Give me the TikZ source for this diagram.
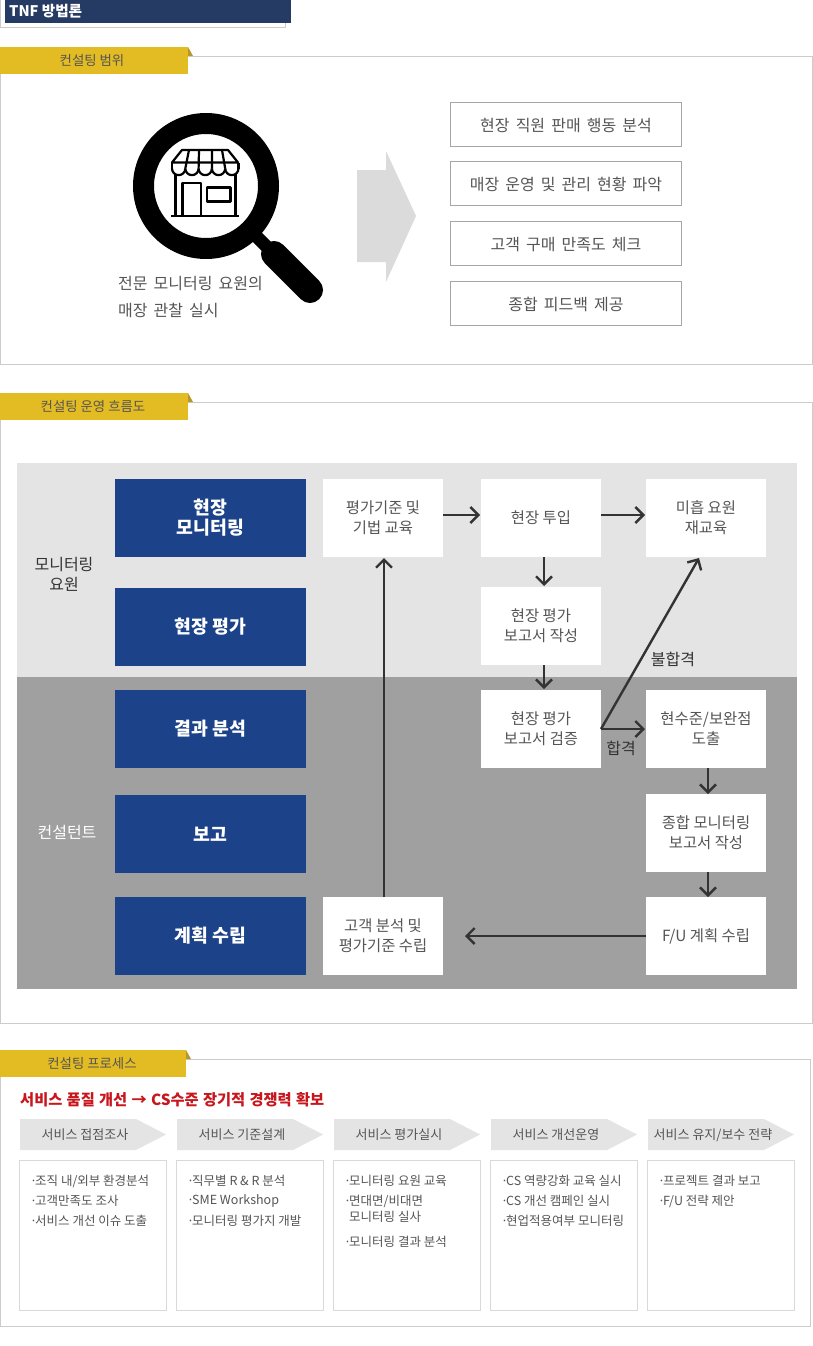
\documentclass[tikz,border=0pt]{standalone}
\usepackage{xcolor}
\usepackage{fontspec}
\setmainfont{Noto Sans CJK KR}
\usepackage{tikz}
\usetikzlibrary{positioning, arrows.meta, shapes.symbols}
\definecolor{header_blue}{HTML}{253B63}
\definecolor{tab_gold}{HTML}{E3BB22}
\definecolor{tab_fold}{HTML}{B8962A}
\definecolor{frame_gray}{HTML}{CCCCCC}
\definecolor{text_gray}{HTML}{555555}
\definecolor{band_light}{HTML}{E4E4E4}
\definecolor{band_dark}{HTML}{A0A0A0}
\definecolor{step_blue}{HTML}{1C438A}
\definecolor{title_red}{HTML}{C8161D}
\newcommand{\dotitem}{\makebox[5pt][l]{·}}
\newcommand{\widewords}{\spaceskip=0.38em\relax}
\newcommand{\titlewords}{\spaceskip=0.28em\relax}
\tikzset{
    frame_style/.style={
        rectangle,
        draw=frame_gray,
        line width=1pt,
        fill=white,
        anchor=north west,
        inner sep=0pt,
        outer sep=0pt
    },
    tab_style/.style={
        rectangle,
        fill=tab_gold,
        text=text_gray,
        anchor=north west,
        minimum height=27pt,
        inner sep=0pt,
        outer sep=0pt,
        text height=11pt,
        text depth=1pt,
        font=\fontsize{13.4}{16}\selectfont
    },
    scope_box/.style={
        rectangle,
        draw=black!35,
        line width=0.8pt,
        text=text_gray,
        minimum width=231.5pt,
        minimum height=44.5pt,
        inner sep=0pt,
        outer sep=0pt,
        text height=14pt,
        text depth=1pt,
        font=\fontsize{16}{20}\selectfont\widewords
    },
    blue_box/.style={
        rectangle,
        fill=step_blue,
        text=white,
        align=center,
        minimum width=191pt,
        minimum height=78pt,
        inner sep=0pt,
        outer sep=0pt,
        font=\fontsize{18.3}{20}\selectfont\bfseries
    },
    flow_box/.style={
        rectangle,
        fill=white,
        text=text_gray,
        align=center,
        minimum width=120pt,
        minimum height=78pt,
        inner sep=0pt,
        outer sep=0pt,
        font=\fontsize{15.4}{20}\selectfont
    },
    flow_two/.style={
        flow_box,
        execute at begin node=\rule{0pt}{17pt}
    },
    arrow_style/.style={
        -{Straight Barb[length=8pt,width=16pt]},
        draw=black!80,
        line width=2.4pt
    },
    side_label/.style={
        align=center,
        inner sep=0pt,
        font=\fontsize{16}{20}\selectfont
    },
    chevron_style/.style={
        signal,
        signal to=east,
        signal pointer angle=54.6,
        fill=band_light,
        minimum width=146pt,
        minimum height=31pt,
        inner sep=0pt,
        outer sep=0pt
    },
    chevron_text/.style={
        text=text_gray,
        inner sep=0pt,
        text height=11pt,
        text depth=1pt,
        font=\fontsize{13}{16}\selectfont
    },
    list_box/.style={
        rectangle,
        draw=black!15,
        line width=1pt,
        fill=white,
        minimum width=146.5pt,
        minimum height=150pt,
        inner sep=0pt,
        outer sep=0pt
    },
    list_item/.style={
        anchor=west,
        text=text_gray,
        inner sep=0pt,
        yshift=-1pt,
        font=\fontsize{12.5}{15}\selectfont
    }
}

\begin{document}
\begin{tikzpicture}[x=1pt, y=-1pt, node distance=17pt]
    \useasboundingbox (0,0) rectangle (813,1346);

    % 1. header
    \node[frame_style, minimum width=285pt, minimum height=32pt] (head_frame) at (0.5,-4.5) {};
    \node[rectangle, fill=header_blue, anchor=north west, minimum width=286pt, minimum height=23pt,
          inner sep=0pt, outer sep=0pt] (head_bar) at (5,0) {};
    \node[anchor=west, text=white, inner sep=0pt, font=\fontsize{14.6}{18}\selectfont\bfseries]
        (head_text) at (9,11.5) {TNF 방법론};

    % 2. consulting scope
    \node[frame_style, minimum width=812pt, minimum height=308pt] (scope_frame) at (0.5,56.5) {};
    \fill[tab_fold] (188,47) -- (193,56) -- (188,56) -- cycle;
    \node[tab_style, minimum width=188pt] (scope_tab) at (0,47) {\hspace*{-4pt}컨설팅 범위};

    % magnifier and store
    \draw[black, line width=21pt] (206,186) circle[radius=62.5];
    \draw[black, line width=13pt] (256,236) -- (272,252);
    \draw[black, line width=26pt, line cap=round] (274,254) -- (310,290);
    \begin{scope}[black, line width=2.2pt, line join=round]
        \draw (182,150) -- (228,150) -- (238,162.5) -- (172,162.5) -- cycle;
        \draw (172,162.5) -- (172,168.5);
        \draw (238.5,162.5) -- (238.5,168.5);
        \draw (172,168.5) arc[start angle=180, end angle=0, radius=6.65];
        \draw (185.3,168.5) arc[start angle=180, end angle=0, radius=6.65];
        \draw (198.6,168.5) arc[start angle=180, end angle=0, radius=6.65];
        \draw (211.9,168.5) arc[start angle=180, end angle=0, radius=6.65];
        \draw (225.2,168.5) arc[start angle=180, end angle=0, radius=6.65];
        \draw (189,150) -- (185.3,168.5);
        \draw (199,150) -- (198.6,168.5);
        \draw (212,150) -- (211.9,168.5);
        \draw (222,150) -- (225.2,168.5);
        \draw (175.5,174) -- (175.5,216);
        \draw (235.5,174) -- (235.5,216);
        \draw (171,216) -- (239,216);
        \draw (182.5,216) -- (182.5,183) -- (201,183) -- (201,216);
        \draw (207,187.5) rectangle (230.5,201.5);
    \end{scope}

    \node[anchor=west, text=text_gray, inner sep=0pt, font=\fontsize{16}{18}\selectfont\widewords]
        (scope_note_a) at (118,283.5) {전문 모니터링 요원의};
    \node[anchor=west, text=text_gray, inner sep=0pt, font=\fontsize{16}{18}\selectfont\widewords]
        (scope_note_b) at (118,310.5) {매장 관찰 실시};

    \fill[black!14] (357,170) -- (386,170) -- (386,151) -- (416,216) -- (386,282) -- (386,262) -- (357,262) -- cycle;

    \node[scope_box] (scope_a) at (566,124.5) {현장 직원 판매 행동 분석};
    \node[scope_box] (scope_b) at (566,183.5) {매장 운영 및 관리 현황 파악};
    \node[scope_box] (scope_c) at (566,243.5) {고객 구매 만족도 체크};
    \node[scope_box] (scope_d) at (566,303.5) {종합 피드백 제공};

    % 3. operation flow
    \node[frame_style, minimum width=812pt, minimum height=621pt] (flow_frame) at (0.5,402.5) {};
    \fill[tab_fold] (188,393) -- (193,402) -- (188,402) -- cycle;
    \node[tab_style, minimum width=188pt] (flow_tab) at (0,393) {\hspace*{-2pt}컨설팅 운영 흐름도};

    \node[rectangle, fill=band_light, anchor=north west, minimum width=780pt, minimum height=214pt,
          inner sep=0pt, outer sep=0pt] (band_top) at (17,463) {};
    \node[rectangle, fill=band_dark, anchor=north west, minimum width=780pt, minimum height=312pt,
          inner sep=0pt, outer sep=0pt] (band_bottom) at (17,677) {};

    \node[side_label, text=text_gray!60!black] (role_staff) at (64,574.5) {모니터링\\요원};
    \node[side_label, text=white] (role_consultant) at (67,832) {컨설턴트};

    \node[blue_box] (blue_a) at (210.5,518) {현장\\모니터링};
    \node[blue_box] (blue_b) at (210.5,627) {현장 평가};
    \node[blue_box] (blue_c) at (210.5,729) {결과 분석};
    \node[blue_box] (blue_d) at (210.5,834) {보고};
    \node[blue_box] (blue_e) at (210.5,936) {계획 수립};

    \node[flow_two, right=of blue_a] (train) {평가기준 및\\기법 교육};
    \node[flow_box, right=38pt of train] (enter) {현장 투입};
    \node[flow_two, right=45pt of enter] (retrain) {미흡 요원\\재교육};
    \node[flow_two, below=30pt of enter] (write) {현장 평가\\보고서 작성};
    \node[flow_two, below=25pt of write] (verify) {현장 평가\\보고서 검증};
    \node[flow_two, right=45pt of verify] (gap) {현수준/보완점\\도출};
    \node[flow_two, below=26pt of gap] (total) {종합 모니터링\\보고서 작성};
    \node[flow_box, below=25pt of total] (plan) {F/U 계획 수립};
    \node[flow_two, right=17pt of blue_e] (criteria) {고객 분석 및\\평가기준 수립};

    \draw[arrow_style] ([yshift=3pt]train.east) -- ([yshift=3pt,xshift=-1pt]enter.west);
    \draw[arrow_style] ([yshift=3pt]enter.east) -- ([yshift=3pt,xshift=-1pt]retrain.west);
    \draw[arrow_style] ([xshift=3pt]enter.south) -- ([xshift=3pt,yshift=1pt]write.north);
    \draw[arrow_style] ([xshift=3pt]write.south) -- ([xshift=3pt,yshift=1pt]verify.north);
    \draw[arrow_style] (verify.east) -- ([xshift=-1pt]gap.west);
    \draw[arrow_style] (verify.east) -- ([xshift=-7pt,yshift=-1pt]retrain.south);
    \draw[arrow_style] ([xshift=2pt]gap.south) -- ([xshift=2pt]total.north);
    \draw[arrow_style] ([xshift=2pt]total.south) -- ([xshift=2pt]plan.north);
    \draw[arrow_style] (plan.west) -- ([xshift=22pt]criteria.east);
    \draw[arrow_style] ([xshift=1pt]criteria.north) -- ([xshift=1pt,yshift=-1pt]train.south);

    \node[side_label, text=black!80] (label_fail) at (673,659) {불합격};
    \node[side_label, text=black!80] (label_pass) at (621,748) {합격};

    % 4. consulting process
    \node[frame_style, minimum width=810pt, minimum height=267pt] (proc_frame) at (0.5,1059.5) {};
    \fill[tab_fold] (186,1050) -- (191,1059) -- (186,1059) -- cycle;
    \node[tab_style, minimum width=186pt] (proc_tab) at (0,1050) {\hspace*{-2pt}컨설팅 프로세스};

    \node[anchor=west, text=title_red, inner sep=0pt,
          font=\fontsize{15.3}{18}\selectfont\bfseries\titlewords]
        (proc_title) at (20,1100) {서비스 품질 개선 → CS수준 장기적 경쟁력 확보};

    \node[chevron_style] (chev_a) at (78,1134.5) {};
    \node[chevron_style, right=11pt of chev_a] (chev_b) {};
    \node[chevron_style, right=11pt of chev_b] (chev_c) {};
    \node[chevron_style, right=11pt of chev_c] (chev_d) {};
    \node[chevron_style, right=11pt of chev_d] (chev_e) {};
    \node[chevron_text] (chev_text_a) at ([xshift=7pt]chev_a.center) {서비스 접점조사};
    \node[chevron_text] (chev_text_b) at ([xshift=7pt]chev_b.center) {서비스 기준설계};
    \node[chevron_text] (chev_text_c) at ([xshift=7pt]chev_c.center) {서비스 평가실시};
    \node[chevron_text] (chev_text_d) at ([xshift=7pt]chev_d.center) {서비스 개선운영};
    \node[chevron_text] (chev_text_e) at ([xshift=7pt]chev_e.center) {서비스 유지/보수 전략};

    \node[list_box] (list_a) at (92.75,1235.3) {};
    \node[list_box, right=10.5pt of list_a] (list_b) {};
    \node[list_box, right=10.5pt of list_b] (list_c) {};
    \node[list_box, right=10.5pt of list_c] (list_d) {};
    \node[list_box, right=10.5pt of list_d] (list_e) {};

    \node[list_item] (item_a1) at (30,1180) {\dotitem 조직 내/외부 환경분석};
    \node[list_item] (item_a2) at (30,1200) {\dotitem 고객만족도 조사};
    \node[list_item] (item_a3) at (30,1220) {\dotitem 서비스 개선 이슈 도출};

    \node[list_item] (item_b1) at (187,1180) {\dotitem 직무별 R \& R 분석};
    \node[list_item] (item_b2) at (187,1200) {\dotitem SME Workshop};
    \node[list_item] (item_b3) at (187,1220) {\dotitem 모니터링 평가지 개발};

    \node[list_item] (item_c1) at (344,1180) {\dotitem 모니터링 요원 교육};
    \node[list_item] (item_c2) at (344,1200) {\dotitem 면대면/비대면};
    \node[list_item] (item_c3) at (349,1216) {모니터링 실사};
    \node[list_item] (item_c4) at (344,1241) {\dotitem 모니터링 결과 분석};

    \node[list_item] (item_d1) at (501,1180) {\dotitem CS 역량강화 교육 실시};
    \node[list_item] (item_d2) at (501,1200) {\dotitem CS 개선 캠페인 실시};
    \node[list_item] (item_d3) at (501,1220) {\dotitem 현업적용여부 모니터링};

    \node[list_item] (item_e1) at (658,1180) {\dotitem 프로젝트 결과 보고};
    \node[list_item] (item_e2) at (658,1200) {\dotitem F/U 전략 제안};
\end{tikzpicture}
\end{document}
